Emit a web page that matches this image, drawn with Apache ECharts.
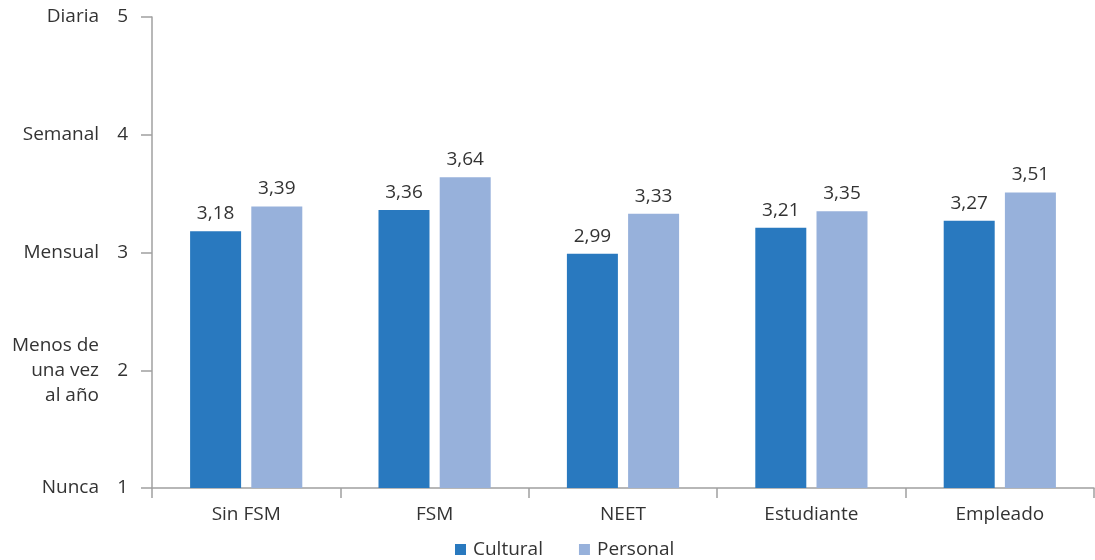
<!DOCTYPE html>
<html><head><meta charset="utf-8">
<script src="https://cdn.jsdelivr.net/npm/echarts@6/dist/echarts.min.js"></script>
<style>html,body{margin:0;padding:0;background:#fff}#c{width:1095px;height:560px}</style>
</head><body><div id="c"></div>
<script>
const categories = ['Sin FSM', 'FSM', 'NEET', 'Estudiante', 'Empleado'];
const cultural = [3.18, 3.36, 2.99, 3.21, 3.27];
const personal = [3.39, 3.64, 3.33, 3.35, 3.51];
const yTicks = [1, 2, 3, 4, 5];
const yTickNames = {1: 'Nunca', 2: 'Menos de\nuna vez\nal año', 3: 'Mensual', 4: 'Semanal', 5: 'Diaria'};

const FONT = 'Open Sans';
const FS = 19;
const TXT = '#333333';
const AX = '#a0a0a0';
const chart = echarts.init(document.getElementById('c'));
const yBase = {
  type: 'value', min: 1, max: 5, interval: 1, position: 'left',
  splitLine: {show: false}
};
chart.setOption({
  animation: false,
  textStyle: {fontFamily: FONT},
  grid: {left: 152, right: 1, top: 17, bottom: 72, containLabel: false},
  legend: {
    bottom: -4, left: 450, itemWidth: 11, itemHeight: 11, itemGap: 36,
    icon: 'rect',
    textStyle: {fontFamily: FONT, fontSize: FS, color: TXT, padding: [0, 0, 0, 2]},
    data: ['Cultural', 'Personal']
  },
  xAxis: {
    type: 'category', data: categories,
    axisLine: {lineStyle: {color: AX, width: 1.5}},
    axisTick: {show: true, length: 10, lineStyle: {color: AX, width: 1.5}},
    axisLabel: {fontFamily: FONT, fontSize: FS, color: TXT, margin: 17}
  },
  yAxis: [
    Object.assign({}, yBase, {
      axisLine: {show: true, lineStyle: {color: AX, width: 1.5}},
      axisTick: {show: true, length: 11, lineStyle: {color: AX, width: 1.5}},
      axisLabel: {fontFamily: FONT, fontSize: FS, color: TXT, margin: 24,
        formatter: v => String(v)}
    }),
    Object.assign({}, yBase, {
      axisLine: {show: false}, axisTick: {show: false},
      axisLabel: {fontFamily: FONT, fontSize: FS, color: TXT, margin: 53, lineHeight: 25,
        formatter: v => yTickNames[v] || ''}
    })
  ],
  series: [
    {name: 'Cultural', type: 'bar', data: cultural, barWidth: 51, barGap: '20%',
     itemStyle: {color: '#2979BF'},
     label: {show: true, position: 'top', distance: 8, fontFamily: FONT, fontSize: FS, color: TXT,
       formatter: p => p.value.toFixed(2).replace('.', ',')}},
    {name: 'Personal', type: 'bar', data: personal, barWidth: 51, barGap: '20%',
     itemStyle: {color: '#97B1DB'},
     label: {show: true, position: 'top', distance: 8, fontFamily: FONT, fontSize: FS, color: TXT,
       formatter: p => p.value.toFixed(2).replace('.', ',')}}
  ]
});
</script></body></html>
